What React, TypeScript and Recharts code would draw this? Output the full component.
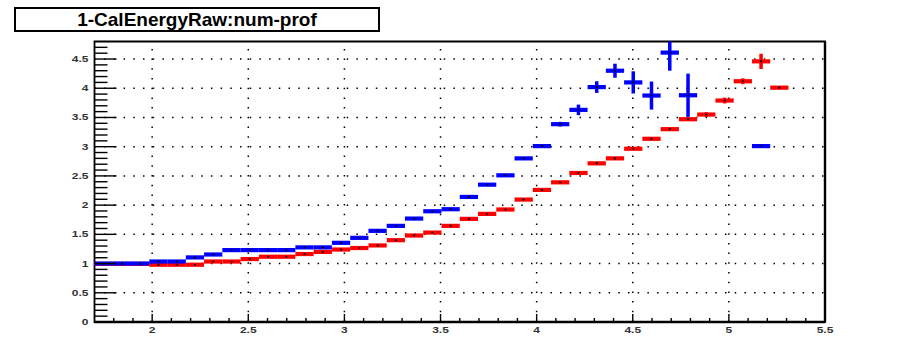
import React from 'react'
import {
  ScatterChart,
  Scatter,
  XAxis,
  YAxis,
  ErrorBar,
  ReferenceLine,
  ReferenceArea,
} from 'recharts'

// 40 bins from 1.7 to 5.5 (width 0.095)
const binCenters = [
  1.7475, 1.8425, 1.9375, 2.0325, 2.1275, 2.2225, 2.3175, 2.4125, 2.5075, 2.6025,
  2.6975, 2.7925, 2.8875, 2.9825, 3.0775, 3.1725, 3.2675, 3.3625, 3.4575, 3.5525,
  3.6475, 3.7425, 3.8375, 3.9325, 4.0275, 4.1225, 4.2175, 4.3125, 4.4075, 4.5025,
  4.5975, 4.6925, 4.7875, 4.8825, 4.9775, 5.0725, 5.1675, 5.2625, 5.3575, 5.4525,
]

const blueValues = [
  1.0, 1.0, 1.0, 1.035, 1.035, 1.105, 1.155, 1.23, 1.23, 1.23,
  1.23, 1.277, 1.277, 1.355, 1.44, 1.56, 1.645, 1.77, 1.895, 1.93,
  2.14, 2.35, 2.51, 2.8, 3.01, 3.385, 3.63, 4.02, 4.3, 4.1,
  3.875, 4.61, 3.88, null, null, null, 3.01, null, null, null,
]
// [down, up]; bin 31 is cut by the top of the frame
const blueErrors: (number | [number, number])[] = [
  0, 0, 0, 0, 0, 0, 0, 0, 0, 0,
  0, 0, 0, 0, 0, 0, 0, 0, 0, 0,
  0, 0, 0.01, 0.01, 0.02, 0.04, 0.09, 0.1, 0.12, 0.19,
  0.24, [0.31, 0.19], 0.37, 0, 0, 0, 0, 0, 0, 0,
]

const redValues = [
  0.995, 0.995, 0.995, 0.98, 0.98, 0.98, 1.035, 1.035, 1.077, 1.117,
  1.117, 1.163, 1.2, 1.24, 1.266, 1.31, 1.4, 1.48, 1.53, 1.645,
  1.765, 1.85, 1.925, 2.095, 2.26, 2.39, 2.55, 2.715, 2.8, 2.965,
  3.135, 3.3, 3.47, 3.55, 3.79, 4.12, 4.46, 4.01, null, null,
]
const redErrors: (number | [number, number])[] = [
  0, 0, 0, 0, 0, 0, 0, 0, 0, 0,
  0, 0, 0, 0, 0, 0, 0, 0, 0, 0,
  0, 0, 0, 0, 0.01, 0.01, 0.01, 0.01, 0.02, 0.02,
  0.02, 0.02, 0.03, 0.04, 0.05, 0.05, 0.13, 0, 0, 0,
]

const xMajorTicks = [2, 2.5, 3, 3.5, 4, 4.5, 5, 5.5]
const xMinorTicks = [
  1.8, 1.9, 2.1, 2.2, 2.3, 2.4, 2.6, 2.7, 2.8, 2.9, 3.1, 3.2, 3.3, 3.4, 3.6, 3.7, 3.8,
  3.9, 4.1, 4.2, 4.3, 4.4, 4.6, 4.7, 4.8, 4.9, 5.1, 5.2, 5.3, 5.4,
]
const yMajorTicks = [0, 0.5, 1, 1.5, 2, 2.5, 3, 3.5, 4, 4.5]
const yMinorTicks = [
  0.1, 0.2, 0.3, 0.4, 0.6, 0.7, 0.8, 0.9, 1.1, 1.2, 1.3, 1.4, 1.6, 1.7, 1.8, 1.9,
  2.1, 2.2, 2.3, 2.4, 2.6, 2.7, 2.8, 2.9, 3.1, 3.2, 3.3, 3.4, 3.6, 3.7, 3.8, 3.9,
  4.1, 4.2, 4.3, 4.4, 4.6, 4.7,
]

const BIN_HALF = 0.0475
const BLUE = '#0000ff'
const RED = '#ff0000'
const FONT = '"Liberation Sans", Arial, sans-serif'

const toPoints = (values: (number | null)[], errors: (number | [number, number])[]) =>
  binCenters.flatMap((x, i) =>
    values[i] == null ? [] : [{ x, y: values[i] as number, ex: BIN_HALF, ey: errors[i] }]
  )

const bluePoints = toPoints(blueValues, blueErrors)
const redPoints = toPoints(redValues, redErrors)

const xTicks = [...xMinorTicks, ...xMajorTicks].sort((a, b) => a - b)
const yTicks = [...yMinorTicks, ...yMajorTicks].sort((a, b) => a - b)

function XTick(props: any) {
  const { x, y, payload } = props
  const major = xMajorTicks.includes(payload.value)
  return (
    <g>
      <line x1={x} x2={x} y1={y} y2={y - (major ? 8 : 4)} stroke="#000" strokeWidth={1.4} />
      {major && (
        <text
          transform={`translate(${x},${y + 11}) scale(1.2,0.85)`}
          textAnchor="middle"
          fontFamily={FONT}
          fontWeight="bold"
          fontSize={10}
          fill="#333"
        >
          {String(payload.value)}
        </text>
      )}
    </g>
  )
}

function YTick(props: any) {
  const { x, y, payload } = props
  const major = yMajorTicks.includes(payload.value)
  return (
    <g>
      <line x1={x} x2={x + (major ? 22 : 13)} y1={y} y2={y} stroke="#000" strokeWidth={1.4} />
      {major && (
        <text
          transform={`translate(${x - 6},${y + 3}) scale(1.2,0.85)`}
          textAnchor="end"
          fontFamily={FONT}
          fontWeight="bold"
          fontSize={10}
          fill="#333"
        >
          {String(payload.value)}
        </text>
      )}
    </g>
  )
}

const centerDot = (props: any) => <circle cx={props.cx} cy={props.cy} r={1.1} fill="#000" />

export default function App() {
  return (
    <div style={{ position: 'absolute', left: 0, top: 0, width: 909, height: 338, background: '#fff' }}>
      <div
        style={{
          position: 'absolute',
          left: 14,
          top: 7,
          width: 366,
          height: 25,
          boxSizing: 'border-box',
          border: '2px solid #000',
          fontFamily: FONT,
          fontWeight: 'bold',
          fontSize: 19,
          lineHeight: '21px',
          textAlign: 'center',
          color: '#000',
        }}
      >
        1-CalEnergyRaw:num-prof
      </div>
      <ScatterChart width={909} height={338} margin={{ top: 41.5, right: 84, bottom: 0, left: 54.5 }}>
        <XAxis
          type="number"
          dataKey="x"
          domain={[1.7, 5.5]}
          allowDataOverflow
          ticks={xTicks}
          interval={0}
          tickSize={0}
          tickMargin={0}
          axisLine={false}
          tickLine={false}
          tick={XTick}
          height={16}
        />
        <YAxis
          type="number"
          dataKey="y"
          domain={[0, 4.8]}
          allowDataOverflow
          ticks={yTicks}
          interval={0}
          tickSize={0}
          tickMargin={0}
          axisLine={false}
          tickLine={false}
          tick={YTick}
          width={40}
        />
        {xMajorTicks.slice(0, -1).map((v) => (
          <ReferenceLine key={`gx${v}`} x={v} stroke="#000" strokeWidth={1.5} strokeDasharray="1.5 8.2" />
        ))}
        {yMajorTicks.slice(1).map((v) => (
          <ReferenceLine key={`gy${v}`} y={v} stroke="#000" strokeWidth={1.5} strokeDasharray="1.5 8.2" />
        ))}
        <ReferenceArea x1={1.7} x2={5.5} y1={0} y2={4.8} fill="none" stroke="#000" strokeWidth={1.8} />
        <ReferenceLine x={5.5} stroke="#000" strokeWidth={2.4} />
        <ReferenceLine y={0} stroke="#000" strokeWidth={2.4} />
        <Scatter data={redPoints} shape={centerDot} isAnimationActive={false}>
          <ErrorBar dataKey="ex" direction="x" width={0} stroke={RED} strokeWidth={4.2} isAnimationActive={false} />
          <ErrorBar dataKey="ey" direction="y" width={0} stroke={RED} strokeWidth={3.5} isAnimationActive={false} />
        </Scatter>
        <Scatter data={bluePoints} shape={centerDot} isAnimationActive={false}>
          <ErrorBar dataKey="ex" direction="x" width={0} stroke={BLUE} strokeWidth={4.2} isAnimationActive={false} />
          <ErrorBar dataKey="ey" direction="y" width={0} stroke={BLUE} strokeWidth={3.5} isAnimationActive={false} />
        </Scatter>
      </ScatterChart>
    </div>
  )
}
